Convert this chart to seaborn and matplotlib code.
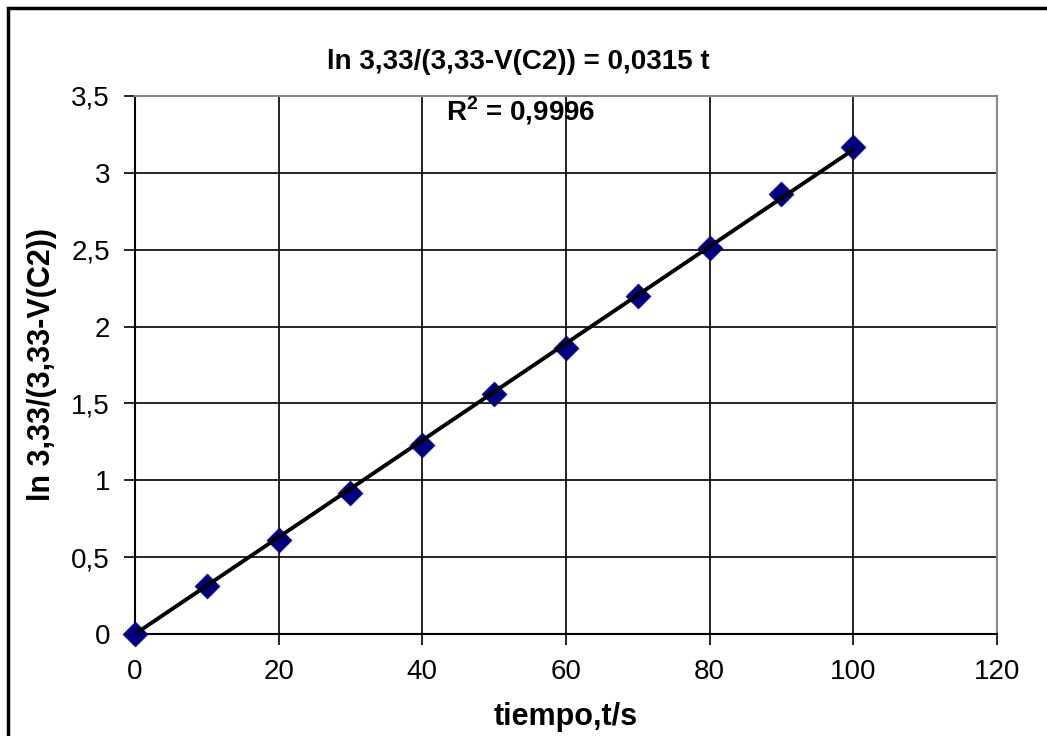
import numpy as np
import pandas as pd
import matplotlib
matplotlib.use("Agg")
import matplotlib.pyplot as plt
import seaborn as sns
from matplotlib.patches import Rectangle

t_values = [0, 10, 20, 30, 40, 50, 60, 70, 80, 90, 100]
y_values = [0.0, 0.31, 0.61, 0.92, 1.23, 1.56, 1.86, 2.20, 2.51, 2.86, 3.17]
slope = 0.0315
x_ticks = [0, 20, 40, 60, 80, 100, 120]
y_ticks = [0, 0.5, 1, 1.5, 2, 2.5, 3, 3.5]
y_tick_labels = ["0", "0,5", "1", "1,5", "2", "2,5", "3", "3,5"]
eq_text = "ln 3,33/(3,33-V(C2)) = 0,0315 t"
r2_text = "R$^\\mathbf{2}$ = 0,9996"
x_label = "tiempo,t/s"
y_label = "ln 3,33/(3,33-V(C2))"

sns.set_style("white")
plt.rcParams['font.family'] = ['Liberation Sans', 'DejaVu Sans']
plt.rcParams['text.color'] = 'black'
plt.rcParams['axes.labelcolor'] = 'black'
plt.rcParams['xtick.color'] = 'black'
plt.rcParams['ytick.color'] = 'black'
plt.rcParams['mathtext.fontset'] = 'custom'
plt.rcParams['mathtext.bf'] = 'Liberation Sans:bold'
plt.rcParams['mathtext.rm'] = 'Liberation Sans'

df = pd.DataFrame({"t": t_values, "y": y_values})
fit_t = np.array([min(t_values), max(t_values)])
fit_df = pd.DataFrame({"t": fit_t, "y": slope * fit_t})

fig = plt.figure(figsize=(10.47, 7.36), dpi=100)
ax = fig.add_axes([0.129, 0.1386, 0.823, 0.731])

sns.scatterplot(data=df, x="t", y="y", marker="D", s=160, color="#000080",
                edgecolor="#000080", linewidth=0.5, ax=ax, zorder=3, clip_on=False)
sns.lineplot(data=fit_df, x="t", y="y", color="black", linewidth=2.8, ax=ax, zorder=4)

ax.set_xlim(0, 120)
ax.set_ylim(0, 3.5)
ax.set_xticks(x_ticks)
ax.set_xticklabels([str(v) for v in x_ticks])
ax.set_yticks(y_ticks)
ax.set_yticklabels(y_tick_labels)
ax.grid(True, color="black", linewidth=1.2)
ax.set_axisbelow(True)
ax.tick_params(axis="both", direction="out", length=8, width=1.2, color="black",
               labelsize=20, pad=10, bottom=True, left=True)
for s in ["left", "bottom"]:
    ax.spines[s].set_color("black")
    ax.spines[s].set_linewidth(1.5)
for s in ["top", "right"]:
    ax.spines[s].set_color("#888888")
    ax.spines[s].set_linewidth(1.5)

ax.set_xlabel(x_label, fontsize=22, fontweight="bold", labelpad=12)
ax.set_ylabel(y_label, fontsize=22, fontweight="bold", labelpad=10)

fig.text(0.495, 0.916, eq_text, fontsize=20, fontweight="bold", ha="center", va="center")
fig.text(0.497, 0.850, r2_text, fontsize=20, fontweight="bold", ha="center", va="center")

fig.patches.append(Rectangle((8 / 1047, -0.01), 1.1, 1 - 8 / 736 + 0.01,
                             transform=fig.transFigure, fill=False,
                             edgecolor="black", linewidth=2.5))

fig.savefig("out.png", dpi=100)
